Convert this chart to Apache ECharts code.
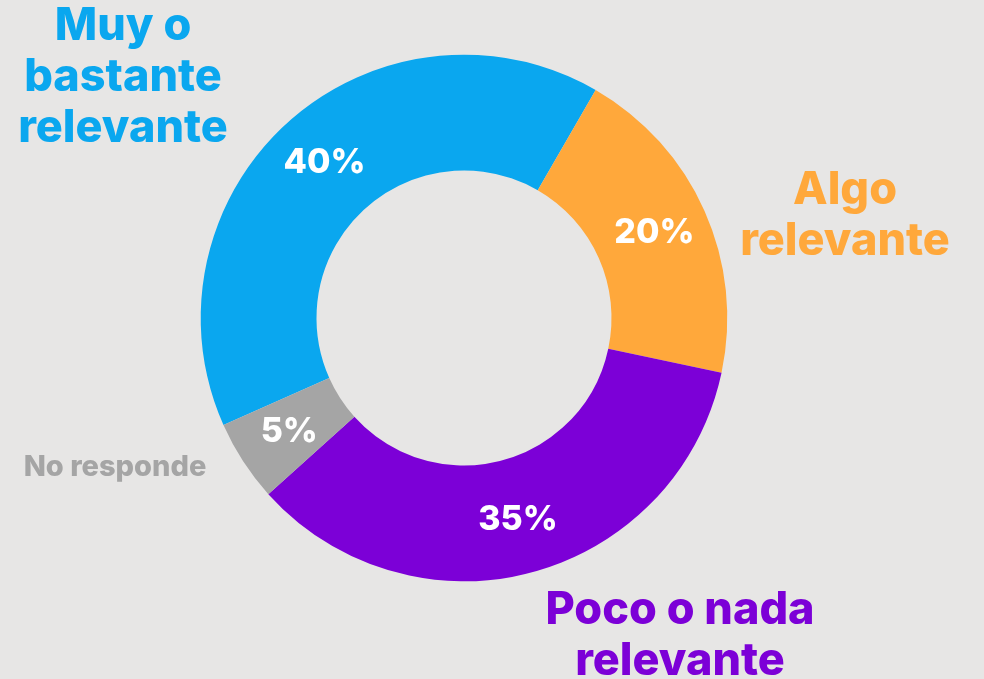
<!DOCTYPE html>
<html><head><meta charset="utf-8">
<script src="https://cdn.jsdelivr.net/npm/echarts@6/dist/echarts.min.js"></script>
<style>html,body{margin:0;padding:0;background:#E7E6E5;}#c{width:984px;height:679px;}</style>
</head><body><div id="c"></div>
<script>
const categories = ["Muy o\nbastante\nrelevante", "Algo\nrelevante", "Poco o nada\nrelevante", "No responde"];
const values = [40, 20, 35, 5];
const colors = ["#0AA7EF", "#FFA83B", "#7C00D7", "#A5A5A5"];
// outside label placement (layout only)
const labelPos = [[123, 77], [845, 216], [680, 636], [115, 467]];
const labelSize = [45, 45, 45, 29];
const labelLH = [51, 51, 51, 34];

const chart = echarts.init(document.getElementById('c'));
const data = categories.map((n, i) => ({ name: n, value: values[i], itemStyle: { color: colors[i] } }));
const FONT = 'Inter, "Noto Sans", sans-serif';
chart.setOption({
  backgroundColor: '#E7E6E5',
  animation: false,
  series: [
    {
      type: 'pie',
      center: [464, 318],
      radius: [147.5, 263.3],
      startAngle: 204,
      clockwise: true,
      silent: true,
      data: data,
      label: {
        position: 'inside',
        formatter: p => p.value + '%',
        color: '#fff',
        fontFamily: FONT,
        fontWeight: 800,
        fontSize: 34
      },
      labelLine: { show: false }
    },
    {
      type: 'pie',
      center: [464, 318],
      radius: [147.5, 263.3],
      startAngle: 204,
      clockwise: true,
      silent: true,
      data: categories.map((n, i) => ({ name: n, value: values[i], itemStyle: { color: 'rgba(0,0,0,0)' },
        label: { color: colors[i], fontSize: labelSize[i], lineHeight: labelLH[i] } })),
      label: {
        position: 'outside',
        formatter: p => p.name,
        fontFamily: FONT,
        fontWeight: 800,
        align: 'center'
      },
      labelLine: { show: false },
      labelLayout: function (params) {
        const p = labelPos[params.dataIndex];
        return { x: p[0], y: p[1], align: 'center', verticalAlign: 'middle', hideOverlap: false, moveOverlap: false };
      }
    }
  ]
});
</script>
</body></html>
